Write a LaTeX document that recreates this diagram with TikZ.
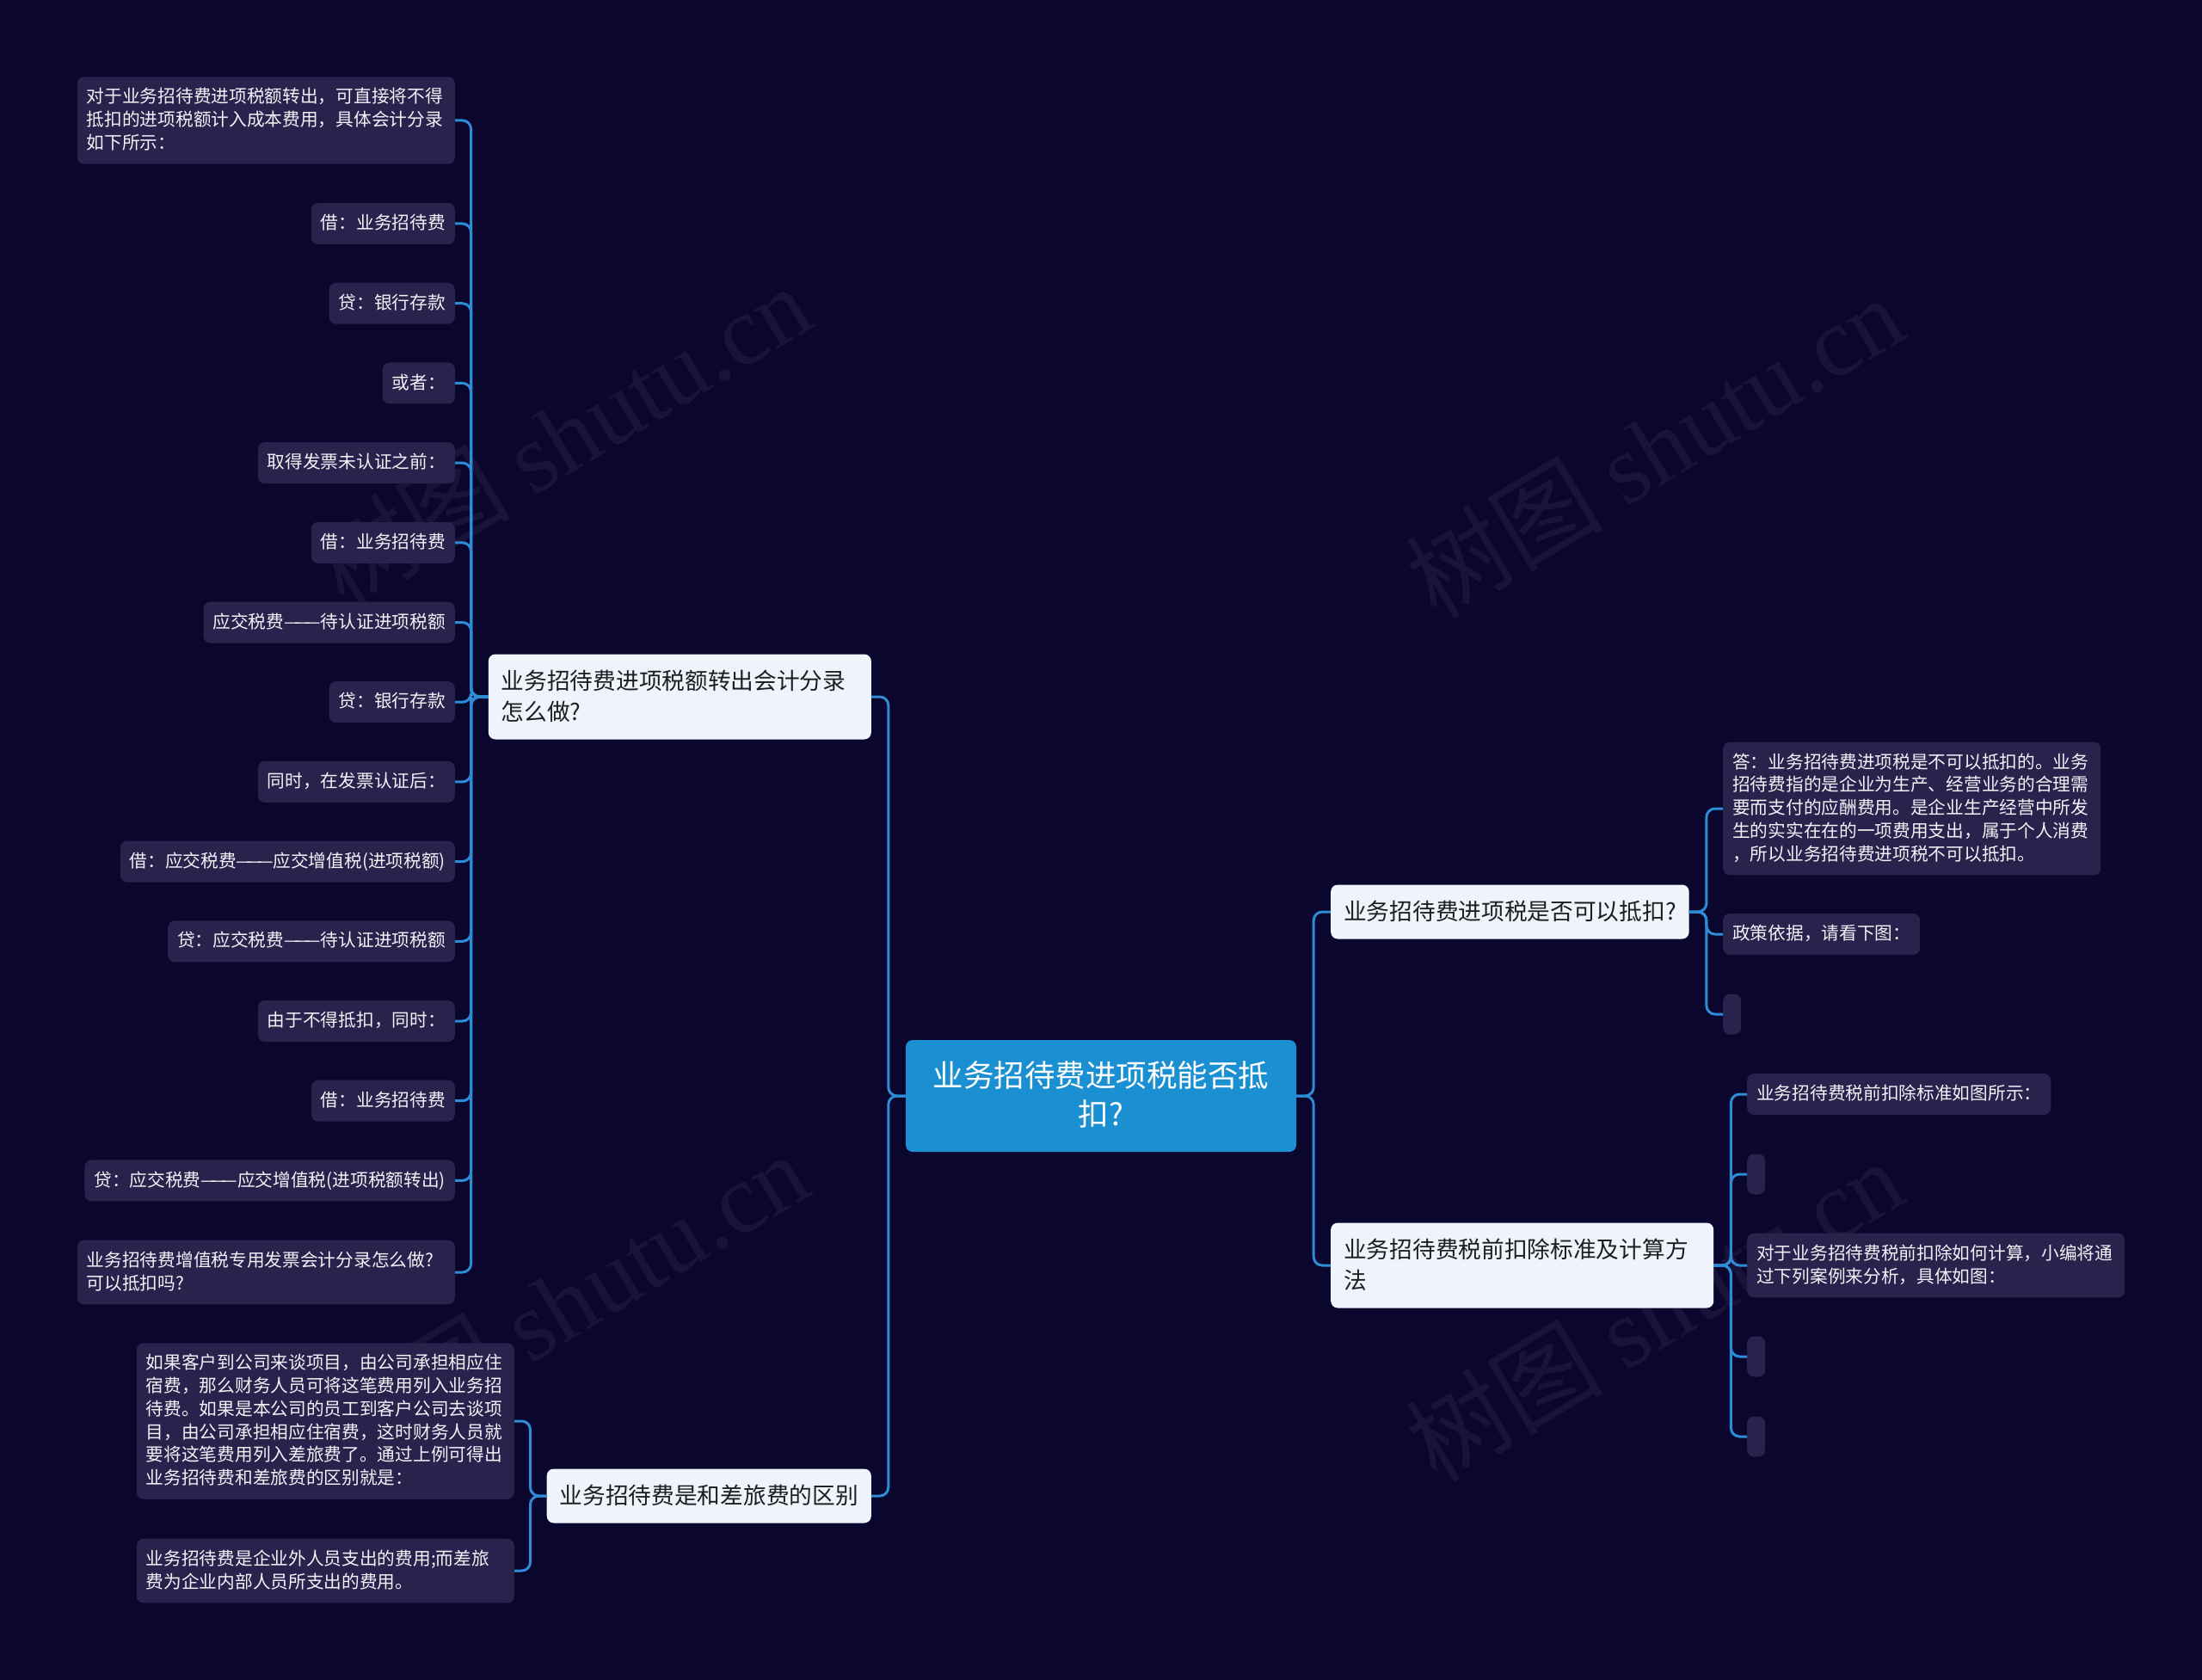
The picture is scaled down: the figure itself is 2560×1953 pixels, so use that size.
\documentclass[tikz,border=0pt]{standalone}
\usepackage{fontspec}
\setmainfont{Noto Sans CJK SC}
\newfontfamily\wmfont{Liberation Serif}
\definecolor{bgc}{HTML}{0A062D}
\definecolor{leaffill}{HTML}{27234C}
\definecolor{leaftext}{HTML}{F2F2F7}
\definecolor{brfill}{HTML}{EEF3FC}
\definecolor{brtext}{HTML}{1E1E1E}
\definecolor{rootfill}{HTML}{1A8FD2}
\definecolor{linec}{HTML}{2E8CD7}
\newcommand\lfnt{\fontsize{20.7}{26.7}\selectfont}
\newcommand\lstr{\rule[-6.7pt]{0pt}{26.7pt}}
\newcommand\brfnt{\fontsize{26.7}{36}\selectfont}
\newcommand\brst{\rule[-9pt]{0pt}{36pt}}
\newcommand\rtfnt{\fontsize{35.5}{45}\selectfont}
\newcommand\rtst{\rule[-11pt]{0pt}{45pt}}
\newcommand\dsh{—\kern-6.5pt—\kern-6.5pt—}
\tikzset{
  leaf/.style={fill=leaffill, rounded corners=8, text=leaftext, font=\lfnt, inner xsep=11, inner ysep=10.65, align=left},
  wideleaf/.style={leaf, text width=417},
  emptyleaf/.style={fill=leaffill, rounded corners=8, minimum width=21, minimum height=47, inner sep=0},
  branch/.style={fill=brfill, rounded corners=8, text=brtext, font=\brfnt, inner xsep=15, inner ysep=13.5, align=left},
  rootbox/.style={fill=rootfill, rounded corners=8, text=white, font=\rtfnt, inner xsep=20, inner ysep=20, align=center, text width=414},
  conn/.style={draw=linec, line width=3, rounded corners=10},
  wm/.style={text=white, opacity=0.06, font=\fontsize{115}{120}\selectfont, rotate=31}
}
\begin{document}
\begin{tikzpicture}[x=1pt, y=-1pt]
\useasboundingbox (0,0) rectangle (2560,1953);
\fill[bgc] (0,0) rectangle (2560,1953);

% watermarks
\node[wm] (wm1) at (653,506) {树图 {\wmfont shutu.cn}};
\node[wm] (wm2) at (1923,519) {树图 {\wmfont shutu.cn}};
\node[wm] (wm3) at (650,1515) {树图 {\wmfont shutu.cn}};
\node[wm] (wm4) at (1923,1523) {树图 {\wmfont shutu.cn}};

% root
\node[rootbox] (root) at (1280,1274) {\rtst 业务招待费进项税能否抵\\\rtst 扣?};

% branches
\node[branch, text width=415, anchor=east] (b1) at (1013,810) {\brst 业务招待费进项税额转出会计分录\\\brst 怎么做?};
\node[branch, anchor=east] (b2) at (1013,1739) {\brst 业务招待费是和差旅费的区别};
\node[branch, anchor=west] (r1) at (1547,1060) {\brst 业务招待费进项税是否可以抵扣?};
\node[branch, text width=415, anchor=west] (r2) at (1547,1471) {\brst 业务招待费税前扣除标准及计算方\\\brst 法};

% leaves of b1
\node[wideleaf, anchor=east] (l1) at (529,140) {\lstr 对于业务招待费进项税额转出，可直接将不得\\\lstr 抵扣的进项税额计入成本费用，具体会计分录\\\lstr 如下所示：};
\node[leaf, anchor=east] (l2) at (529,260) {\lstr 借：业务招待费};
\node[leaf, anchor=east] (l3) at (529,352.7) {\lstr 贷：银行存款};
\node[leaf, anchor=east] (l4) at (529,445.4) {\lstr 或者：};
\node[leaf, anchor=east] (l5) at (529,538.1) {\lstr 取得发票未认证之前：};
\node[leaf, anchor=east] (l6) at (529,630.8) {\lstr 借：业务招待费};
\node[leaf, anchor=east] (l7) at (529,723.5) {\lstr 应交税费\dsh 待认证进项税额};
\node[leaf, anchor=east] (l8) at (529,816.2) {\lstr 贷：银行存款};
\node[leaf, anchor=east] (l9) at (529,908.9) {\lstr 同时，在发票认证后：};
\node[leaf, anchor=east] (l10) at (529,1001.6) {\lstr 借：应交税费\dsh 应交增值税(进项税额)};
\node[leaf, anchor=east] (l11) at (529,1094.3) {\lstr 贷：应交税费\dsh 待认证进项税额};
\node[leaf, anchor=east] (l12) at (529,1187) {\lstr 由于不得抵扣，同时：};
\node[leaf, anchor=east] (l13) at (529,1279.7) {\lstr 借：业务招待费};
\node[leaf, anchor=east] (l14) at (529,1372.4) {\lstr 贷：应交税费\dsh 应交增值税(进项税额转出)};
\node[wideleaf, anchor=east] (l15) at (529,1479) {\lstr 业务招待费增值税专用发票会计分录怎么做?\\\lstr 可以抵扣吗?};

% leaves of b2
\node[wideleaf, anchor=east] (m1) at (598,1652) {\lstr 如果客户到公司来谈项目，由公司承担相应住\\\lstr 宿费，那么财务人员可将这笔费用列入业务招\\\lstr 待费。如果是本公司的员工到客户公司去谈项\\\lstr 目，由公司承担相应住宿费，这时财务人员就\\\lstr 要将这笔费用列入差旅费了。通过上例可得出\\\lstr 业务招待费和差旅费的区别就是：};
\node[wideleaf, anchor=east] (m2) at (598,1826) {\lstr 业务招待费是企业外人员支出的费用;而差旅\\\lstr 费为企业内部人员所支出的费用。};

% leaves of r1
\node[wideleaf, anchor=west] (a1) at (2003,940) {\lstr 答：业务招待费进项税是不可以抵扣的。业务\\\lstr 招待费指的是企业为生产、经营业务的合理需\\\lstr 要而支付的应酬费用。是企业生产经营中所发\\\lstr 生的实实在在的一项费用支出，属于个人消费\\\lstr ，所以业务招待费进项税不可以抵扣。};
\node[leaf, anchor=west] (a2) at (2003,1086) {\lstr 政策依据，请看下图：};
\node[emptyleaf, anchor=west] (a3) at (2003,1179) {};

% leaves of r2
\node[leaf, anchor=west] (c1) at (2031,1272) {\lstr 业务招待费税前扣除标准如图所示：};
\node[emptyleaf, anchor=west] (c2) at (2031,1365) {};
\node[wideleaf, anchor=west] (c3) at (2031,1471) {\lstr 对于业务招待费税前扣除如何计算，小编将通\\\lstr 过下列案例来分析，具体如图：};
\node[emptyleaf, anchor=west] (c4) at (2031,1577) {};
\node[emptyleaf, anchor=west] (c5) at (2031,1670) {};

% connectors root
\foreach \t in {b1,b2} \draw[conn] (root.west) -- ++(-20,0) |- (\t.east);
\foreach \t in {r1,r2} \draw[conn] (root.east) -- ++(20,0) |- (\t.west);
% connectors b1
\foreach \t in {l1,l2,l3,l4,l5,l6,l7,l8,l9,l10,l11,l12,l13,l14,l15} \draw[conn] (b1.west) -- ++(-20,0) |- (\t.east);
% connectors b2
\foreach \t in {m1,m2} \draw[conn] (b2.west) -- ++(-19,0) |- (\t.east);
% connectors r1
\foreach \t in {a1,a2,a3} \draw[conn] (r1.east) -- ++(20,0) |- (\t.west);
% connectors r2
\foreach \t in {c1,c2,c3,c4,c5} \draw[conn] (r2.east) -- ++(20,0) |- (\t.west);
\end{tikzpicture}
\end{document}
